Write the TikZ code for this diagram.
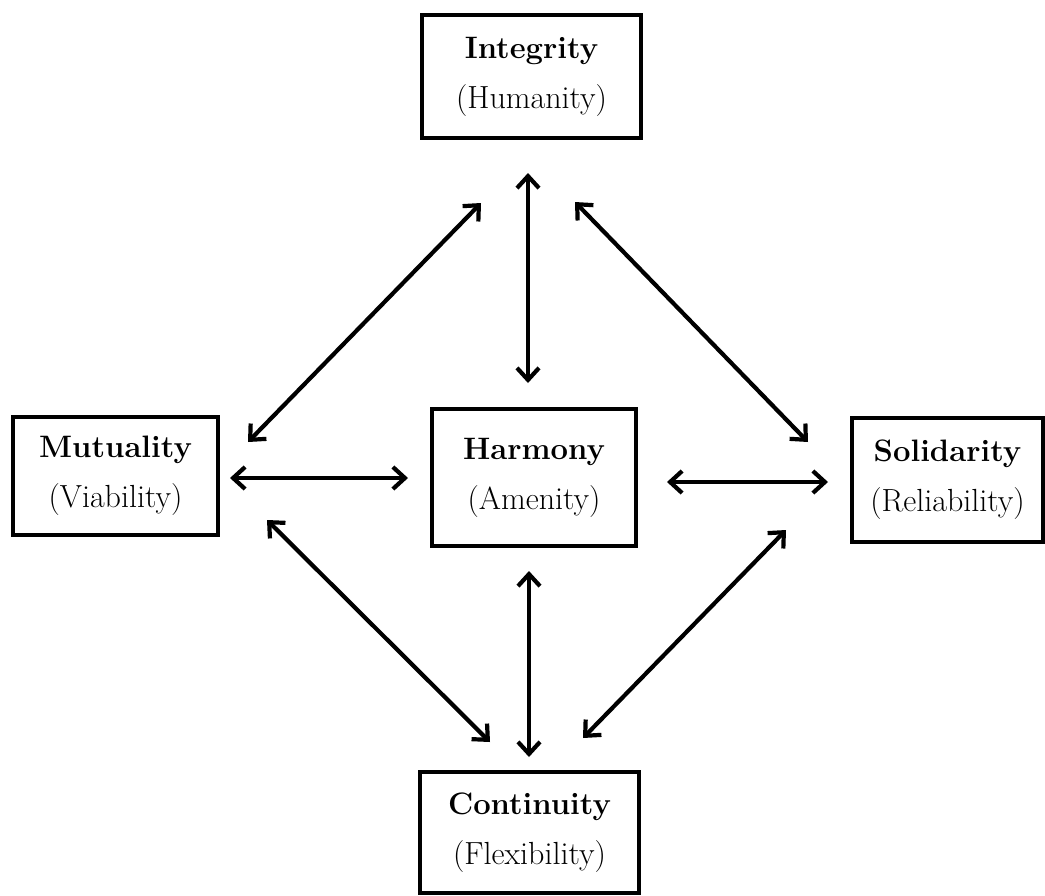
\documentclass[tikz,border=0pt]{standalone}
\usetikzlibrary{arrows.meta}
\newcommand\boxhead[1]{{\fontsize{15.5}{25}\selectfont\bfseries #1}}
\begin{document}
\begin{tikzpicture}[x=0.5pt,y=-0.5pt,
  box/.style={draw, line width=1.6pt, inner sep=0pt, align=center,
    font=\fontsize{16}{25}\selectfont},
  link/.style={line width=2.1pt,
    {Straight Barb[length=6pt,width=11pt]}-{Straight Barb[length=6pt,width=11pt]}}]
\useasboundingbox (0,0) rectangle (1045,895);

\node[box, minimum width=109.5pt, minimum height=61.5pt] (integrity) at (531.5,76.5) {\boxhead{Integrity}\\(Humanity)};
\node[box, minimum width=102.5pt, minimum height=59pt] (mutuality) at (115.5,476) {\boxhead{Mutuality}\\(Viability)};
\node[box, minimum width=102pt, minimum height=68.5pt] (harmony) at (534,477.5) {\boxhead{Harmony}\\(Amenity)};
\node[box, minimum width=95.5pt, minimum height=62pt] (solidarity) at (947.5,480) {\boxhead{Solidarity}\\(Reliability)};
\node[box, minimum width=109.5pt, minimum height=60.5pt] (continuity) at (529.5,832.5) {\boxhead{Continuity}\\(Flexibility)};

\coordinate (tv1) at (528,173);  \coordinate (tv2) at (528,383);
\coordinate (tl1) at (481,203);  \coordinate (tl2) at (248,442);
\coordinate (tr1) at (575,202);  \coordinate (tr2) at (808,442);
\coordinate (lh1) at (230,478);  \coordinate (lh2) at (408,478);
\coordinate (rh1) at (667,482);  \coordinate (rh2) at (828,482);
\coordinate (bl1) at (267,520);  \coordinate (bl2) at (490,742);
\coordinate (bv1) at (529,571);  \coordinate (bv2) at (529,757);
\coordinate (br1) at (583,738);  \coordinate (br2) at (786,530);

\draw[link] (tv1) -- (tv2);
\draw[link] (tl1) -- (tl2);
\draw[link] (tr1) -- (tr2);
\draw[link] (lh1) -- (lh2);
\draw[link] (rh1) -- (rh2);
\draw[link] (bl1) -- (bl2);
\draw[link] (bv1) -- (bv2);
\draw[link] (br1) -- (br2);
\end{tikzpicture}
\end{document}
